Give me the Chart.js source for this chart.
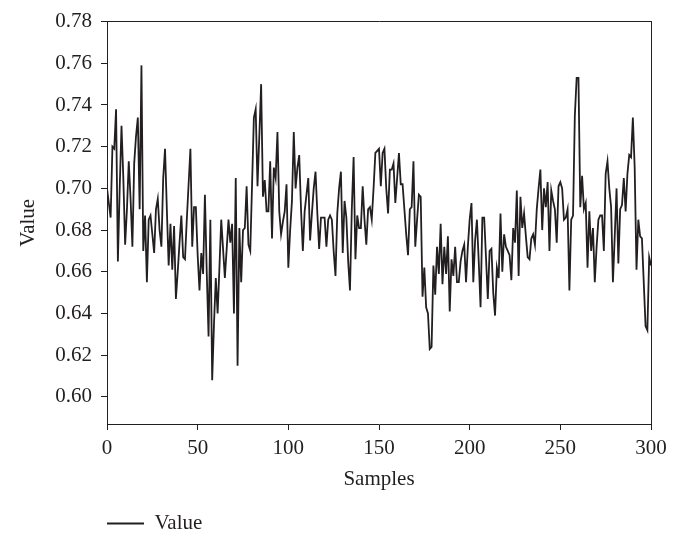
<!DOCTYPE html>
<html><head><meta charset="utf-8">
<script src="https://cdn.jsdelivr.net/npm/chart.js@4/dist/chart.umd.min.js"></script>
<style>html,body{margin:0;padding:0;background:#fff}canvas{display:block}</style>
</head><body>
<canvas id="c" width="680" height="545"></canvas>
<script>
const seriesName = "Value";
const values = [
  0.700, 0.693, 0.686, 0.720, 0.719, 0.738, 0.665, 0.700, 0.730, 0.705,
  0.673, 0.690, 0.713, 0.695, 0.672, 0.712, 0.725, 0.734, 0.690, 0.759,
  0.670, 0.687, 0.655, 0.685, 0.687, 0.678, 0.669, 0.690, 0.695, 0.680,
  0.672, 0.705, 0.719, 0.690, 0.663, 0.683, 0.661, 0.682, 0.647, 0.660,
  0.674, 0.687, 0.667, 0.666, 0.685, 0.702, 0.719, 0.672, 0.691, 0.691,
  0.668, 0.651, 0.669, 0.659, 0.697, 0.660, 0.629, 0.685, 0.608, 0.635,
  0.657, 0.640, 0.662, 0.685, 0.671, 0.657, 0.671, 0.685, 0.674, 0.683,
  0.640, 0.705, 0.615, 0.681, 0.655, 0.680, 0.681, 0.701, 0.673, 0.670,
  0.702, 0.734, 0.738, 0.701, 0.725, 0.750, 0.696, 0.704, 0.689, 0.689,
  0.713, 0.676, 0.710, 0.705, 0.727, 0.689, 0.678, 0.684, 0.689, 0.702,
  0.662, 0.680, 0.694, 0.727, 0.700, 0.710, 0.716, 0.690, 0.670, 0.689,
  0.697, 0.705, 0.675, 0.688, 0.700, 0.708, 0.688, 0.671, 0.686, 0.686,
  0.686, 0.672, 0.685, 0.687, 0.685, 0.670, 0.658, 0.688, 0.700, 0.708,
  0.669, 0.694, 0.686, 0.665, 0.651, 0.690, 0.715, 0.666, 0.687, 0.681,
  0.681, 0.701, 0.685, 0.673, 0.690, 0.691, 0.685, 0.700, 0.717, 0.718,
  0.719, 0.701, 0.717, 0.719, 0.700, 0.688, 0.709, 0.709, 0.712, 0.693,
  0.705, 0.717, 0.702, 0.702, 0.690, 0.678, 0.668, 0.690, 0.691, 0.713,
  0.672, 0.685, 0.697, 0.696, 0.648, 0.662, 0.643, 0.640, 0.623, 0.624,
  0.663, 0.649, 0.672, 0.659, 0.683, 0.654, 0.672, 0.659, 0.677, 0.641,
  0.666, 0.658, 0.672, 0.655, 0.655, 0.665, 0.670, 0.673, 0.655, 0.672,
  0.685, 0.693, 0.655, 0.675, 0.685, 0.665, 0.643, 0.686, 0.686, 0.667,
  0.647, 0.670, 0.671, 0.650, 0.639, 0.662, 0.657, 0.688, 0.660, 0.678,
  0.672, 0.670, 0.668, 0.656, 0.681, 0.674, 0.699, 0.658, 0.696, 0.681,
  0.688, 0.677, 0.667, 0.666, 0.676, 0.678, 0.673, 0.690, 0.700, 0.709,
  0.680, 0.700, 0.691, 0.703, 0.670, 0.699, 0.694, 0.690, 0.674, 0.701,
  0.703, 0.700, 0.685, 0.686, 0.690, 0.651, 0.685, 0.687, 0.735, 0.753,
  0.753, 0.691, 0.706, 0.690, 0.693, 0.662, 0.689, 0.670, 0.681, 0.655,
  0.672, 0.685, 0.687, 0.687, 0.670, 0.707, 0.713, 0.700, 0.691, 0.655,
  0.677, 0.700, 0.664, 0.690, 0.692, 0.705, 0.689, 0.707, 0.716, 0.715,
  0.734, 0.710, 0.661, 0.685, 0.677, 0.676, 0.655, 0.634, 0.632, 0.667,
  0.663
];
const samples = values.map((_, i) => i);
const xTickValues = [0, 50, 100, 150, 200, 250, 300];
const yTickValues = [0.60, 0.62, 0.64, 0.66, 0.68, 0.70, 0.72, 0.74, 0.76, 0.78];
const xTitle = "Samples";
const yTitle = "Value";

const ink = "#231f20";
const fontFamily = "'Liberation Serif', 'DejaVu Serif', serif";

new Chart(document.getElementById("c"), {
  type: "line",
  data: {
    labels: samples,
    datasets: [{
      label: seriesName,
      data: values,
      borderColor: ink,
      backgroundColor: ink,
      borderWidth: 1.8,
      pointRadius: 0,
      tension: 0,
      fill: false
    }]
  },
  options: {
    responsive: false,
    animation: false,
    devicePixelRatio: 1,
    layout: { padding: { top: 20, right: 29, left: 0, bottom: 1 } },
    plugins: {
      tooltip: { enabled: false },
      legend: {
        display: true,
        position: "bottom",
        align: "start",
        fullSize: false,
        labels: {
          color: ink,
          font: { family: fontFamily, size: 21 },
          usePointStyle: true,
          pointStyle: "line",
          pointStyleWidth: 37,
          padding: 0
        }
      }
    },
    scales: {
      x: {
        type: "linear",
        position: "bottom",
        min: 0, max: 300,
        afterBuildTicks: (s) => { s.ticks = xTickValues.map(v => ({ value: v })); },
        afterFit: (s) => { s.height = 89; },
        ticks: {
          color: ink, padding: 6, maxRotation: 0, autoSkip: false,
          font: { family: fontFamily, size: 21 },
          callback: (v) => String(v)
        },
        grid: { display: true, drawOnChartArea: false, drawTicks: true, tickLength: 6, color: ink, lineWidth: 1 },
        border: { display: true, color: ink, width: 1 },
        title: { display: true, text: xTitle, color: ink, font: { family: fontFamily, size: 21 }, padding: { top: 8, bottom: 21 } }
      },
      y: {
        type: "linear",
        position: "left",
        min: 0.587, max: 0.78,
        afterBuildTicks: (s) => { s.ticks = yTickValues.map(v => ({ value: v })); },
        afterFit: (s) => { s.width = 107; },
        ticks: {
          color: ink, padding: 9,
          font: { family: fontFamily, size: 21 },
          callback: (v) => Number(v).toFixed(2)
        },
        grid: { display: true, drawOnChartArea: false, drawTicks: true, tickLength: 6, color: ink, lineWidth: 1 },
        border: { display: true, color: ink, width: 1 },
        title: { display: true, text: yTitle, color: ink, font: { family: fontFamily, size: 21 }, padding: { top: 16, bottom: 4 } }
      },
      xTop: {
        type: "linear", position: "top", min: 0, max: 300,
        ticks: { display: false },
        grid: { display: false, drawTicks: false },
        border: { display: true, color: ink, width: 1 }
      },
      yRight: {
        type: "linear", position: "right", min: 0.587, max: 0.78,
        ticks: { display: false },
        grid: { display: false, drawTicks: false },
        border: { display: true, color: ink, width: 1 }
      }
    }
  }
});
</script>
</body></html>
